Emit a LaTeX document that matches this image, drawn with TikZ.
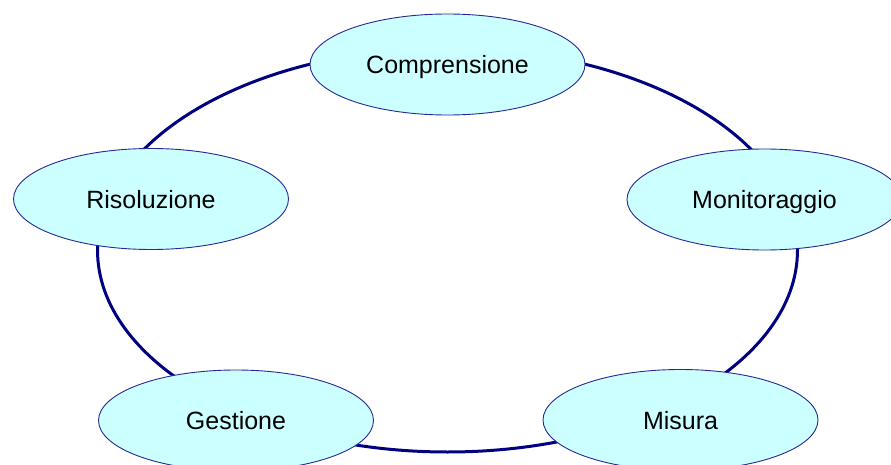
\documentclass[tikz,border=0pt]{standalone}
\usepackage{fontspec}
\setmainfont{Liberation Sans}
\usetikzlibrary{shapes.geometric}
\definecolor{ringblue}{RGB}{0,0,128}
\definecolor{bubblefill}{RGB}{204,255,255}
\definecolor{bubbleedge}{RGB}{40,40,150}
\begin{document}
\begin{tikzpicture}[x=1pt,y=-1pt,
  phase/.style={ellipse, draw=bubbleedge, line width=0.9pt, fill=bubblefill,
    minimum width=275pt, minimum height=101pt, inner sep=0pt,
    text depth=0pt, font=\fontsize{25}{30}\selectfont},
  ring/.style={draw=ringblue, line width=3pt}]
\useasboundingbox (0,0) rectangle (891,465);
\clip (0,0) rectangle (891,465);
% cycle ring behind the phases
\coordinate (hub) at (447.5,250);
\draw[ring] (hub) ellipse [x radius=350pt, y radius=202pt];
% phases of the cycle
\node[phase] (compr) at (447.5,64.5) {Comprensione};
\node[phase] (monit) at (764.5,199.5) {Monitoraggio};
\node[phase] (misura) at (680.5,420) {Misura};
\node[phase] (gest) at (236,420.5) {Gestione};
\node[phase] (risol) at (151,199) {Risoluzione};
\end{tikzpicture}
\end{document}
